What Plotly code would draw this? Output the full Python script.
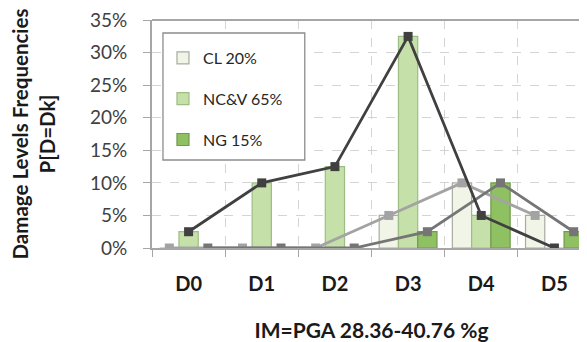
import plotly.graph_objects as go

categories = ["D0", "D1", "D2", "D3", "D4", "D5"]
series_names = ["CL 20%", "NC&V 65%", "NG 15%"]
cl_values = [0.0, 0.0, 0.0, 0.05, 0.10, 0.05]
ncv_values = [0.025, 0.10, 0.125, 0.325, 0.05, 0.0]
ng_values = [0.0, 0.0, 0.0, 0.025, 0.10, 0.025]
y_ticks = [0, 0.05, 0.10, 0.15, 0.20, 0.25, 0.30, 0.35]

series_values = [cl_values, ncv_values, ng_values]
bar_fill = ["#f1f5e8", "#c5e0a8", "#8fc163"]
bar_line = ["#a8ac9f", "#9dbd84", "#6f9a4c"]
line_col = ["#a3a3a3", "#404040", "#757575"]

fig = go.Figure()
for i, (name, vals) in enumerate(zip(series_names, series_values)):
    fig.add_trace(go.Bar(
        x=categories, y=vals, name=name, offsetgroup=str(i),
        legendgroup=str(i),
        marker=dict(color=bar_fill[i], line=dict(color=bar_line[i], width=1.2)),
    ))
order = [0, 2, 1]
for i in order:
    fig.add_trace(go.Scatter(
        x=categories, y=series_values[i], mode="lines+markers",
        offsetgroup=str(i), showlegend=False,
        line=dict(color=line_col[i], width=2.8),
        marker=dict(symbol="square", size=9, color=line_col[i]),
    ))

font_family = "Lato, Open Sans, sans-serif"
fig.update_layout(
    width=587, height=342,
    margin=dict(l=144, r=4, t=12, b=102, autoexpand=False),
    paper_bgcolor="white", plot_bgcolor="white",
    barmode="group", bargap=0.21, bargroupgap=0,
    scattermode="group", scattergap=0.21,
    font=dict(family=font_family, color="#404040"),
    legend=dict(
        x=0.025, y=0.908, xanchor="left", yanchor="top",
        bgcolor="rgba(0,0,0,0)", borderwidth=0,
        font=dict(size=16, color="#262626", family=font_family), tracegroupgap=17,
        itemwidth=30,
    ),
    xaxis=dict(
        type="category", range=[-0.5, 5.5], automargin=False,
        tickson="boundaries", ticks="outside", ticklen=7, tickcolor="#a6a6a6",
        showline=True, linecolor="#a6a6a6", linewidth=2, mirror=False,
        showgrid=True, gridcolor="#d4d4d4", griddash="dash", gridwidth=1,
        tickfont=dict(size=20, color="#1a1a1a", family=font_family, weight="bold"),
        ticklabelstandoff=17,
        title=dict(text="<b>IM=PGA 28.36-40.76 %g</b>", font=dict(size=21, color="#1a1a1a", family=font_family), standoff=29),
        zeroline=False,
    ),
    yaxis=dict(
        range=[0, 0.3502], tickvals=y_ticks, tickformat=".0%", automargin=False,
        ticklabeloverflow="allow",
        ticks="outside", ticklen=7, tickcolor="#a6a6a6",
        showline=True, linecolor="#a6a6a6", linewidth=2,
        showgrid=True, gridcolor="#d4d4d4", griddash="dash", gridwidth=1,
        tickfont=dict(size=19, color="#404040", family=font_family),
        ticklabelstandoff=12,
        title=dict(text="<b>Damage Levels Frequencies<br>P[D=Dk]</b>", font=dict(size=20.5, color="#1a1a1a", family=font_family), standoff=33),
        zeroline=False,
    ),
)
fig.add_shape(type="line", xref="paper", yref="paper", x0=0, x1=1, y0=1, y1=1,
              line=dict(color="#a6a6a6", width=2))
fig.add_shape(type="rect", xref="paper", yref="paper", x0=0.025, x1=0.348, y0=0.386, y1=0.943,
              layer="above", fillcolor="white", line=dict(color="#8c8c8c", width=1.3))

fig.write_html("out.html")
